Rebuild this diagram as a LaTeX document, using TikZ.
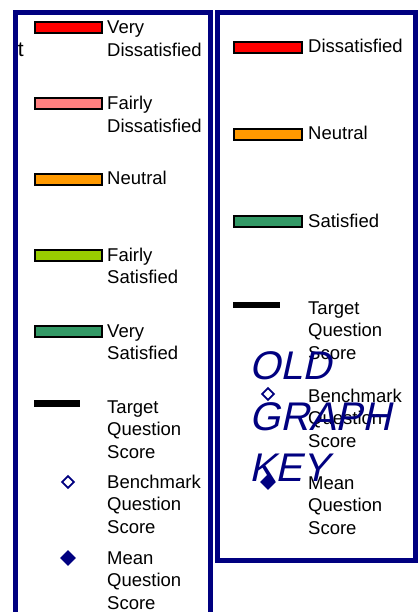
\documentclass[tikz,border=0pt]{standalone}
\usepackage{fontspec}
\setmainfont{Liberation Sans}
\newfontfamily\keyfont{Liberation Sans}[FakeSlant=0.22]
\usetikzlibrary{shapes.geometric}
\definecolor{navy}{RGB}{0,0,128}
\definecolor{vdis}{RGB}{255,0,0}
\definecolor{fdis}{RGB}{255,128,128}
\definecolor{neut}{RGB}{255,153,0}
\definecolor{fsat}{RGB}{153,204,0}
\definecolor{vsat}{RGB}{51,153,102}
\begin{document}
\begin{tikzpicture}[x=1pt,y=-1pt,
  lbl/.style={anchor=base west,inner sep=0pt,align=left,font=\fontsize{18.5}{22.5}\selectfont},
  bar/.style={draw=black,line width=2pt,inner sep=0pt,minimum height=11pt,anchor=north west},
  tline/.style={fill=black,inner sep=0pt,minimum width=46pt,minimum height=7pt,anchor=north west},
  opendia/.style={diamond,draw=navy,line width=1.8pt,fill=white,inner sep=0pt,minimum width=12.5pt,minimum height=12.5pt},
  filldia/.style={diamond,fill=navy,inner sep=0pt,minimum width=16pt,minimum height=16pt},
  frame/.style={draw=navy,line width=5pt},
  oldkey/.style={anchor=base west,inner sep=0pt,align=left,text=navy,font=\keyfont\fontsize{40}{51}\selectfont}]
\useasboundingbox (0,0) rectangle (418,612);
\fill[white] (0,0) rectangle (418,612);
% stray letter behind the left frame
\node[anchor=base east,inner sep=0pt,font=\fontsize{21}{21}\selectfont] (tt) at (24,57) {t};
% ---- left key (base anchor = baseline of last line) ----
\node[bar,fill=vdis,minimum width=67pt] (lb1) at (34,21) {};
\node[lbl] (ll1) at (107,56.5) {Very\\Dissatisfied};
\node[bar,fill=fdis,minimum width=67pt] (lb2) at (34,97) {};
\node[lbl] (ll2) at (107,132.5) {Fairly\\Dissatisfied};
\node[bar,fill=neut,minimum width=67pt] (lb3) at (34,173) {};
\node[lbl] (ll3) at (107,185) {Neutral};
\node[bar,fill=fsat,minimum width=67pt] (lb4) at (34,249) {};
\node[lbl] (ll4) at (107,283.5) {Fairly\\Satisfied};
\node[bar,fill=vsat,minimum width=67pt] (lb5) at (34,325) {};
\node[lbl] (ll5) at (107,359.5) {Very\\Satisfied};
\node[tline] (lt) at (34,400) {};
\node[lbl] (ll6) at (107,458) {Target\\Question\\Score};
\node[opendia] (lod) at (68,482) {};
\node[lbl] (ll7) at (107,533) {Benchmark\\Question\\Score};
\node[filldia] (lfd) at (68,558) {};
\node[lbl] (ll8) at (107,609) {Mean\\Question\\Score};
% ---- right key ----
\node[bar,fill=vdis,minimum width=68pt] (rb1) at (233,41) {};
\node[lbl] (rl1) at (308,53) {Dissatisfied};
\node[bar,fill=neut,minimum width=68pt] (rb2) at (233,128) {};
\node[lbl] (rl2) at (308,140) {Neutral};
\node[bar,fill=vsat,minimum width=68pt] (rb3) at (233,215) {};
\node[lbl] (rl3) at (308,227) {Satisfied};
\node[tline,minimum width=47pt,minimum height=6pt] (rt) at (233,302) {};
\node[lbl] (rl4) at (308,359) {Target\\Question\\Score};
\node[opendia] (rod) at (268,394) {};
\node[lbl] (rl5) at (308,447) {Benchmark\\Question\\Score};
\node[filldia] (rfd) at (268,482) {};
\node[lbl] (rl6) at (308,534) {Mean\\Question\\Score};
\node[oldkey] (ok) at (249,481) {OLD\\GRAPH\\KEY};
% ---- frames ----
\draw[frame] (15.5,615) -- (15.5,12.5) -- (210,12.5) -- (210,615);
\draw[frame] (217.5,12.5) rectangle (415,560.5);
\end{tikzpicture}
\end{document}
